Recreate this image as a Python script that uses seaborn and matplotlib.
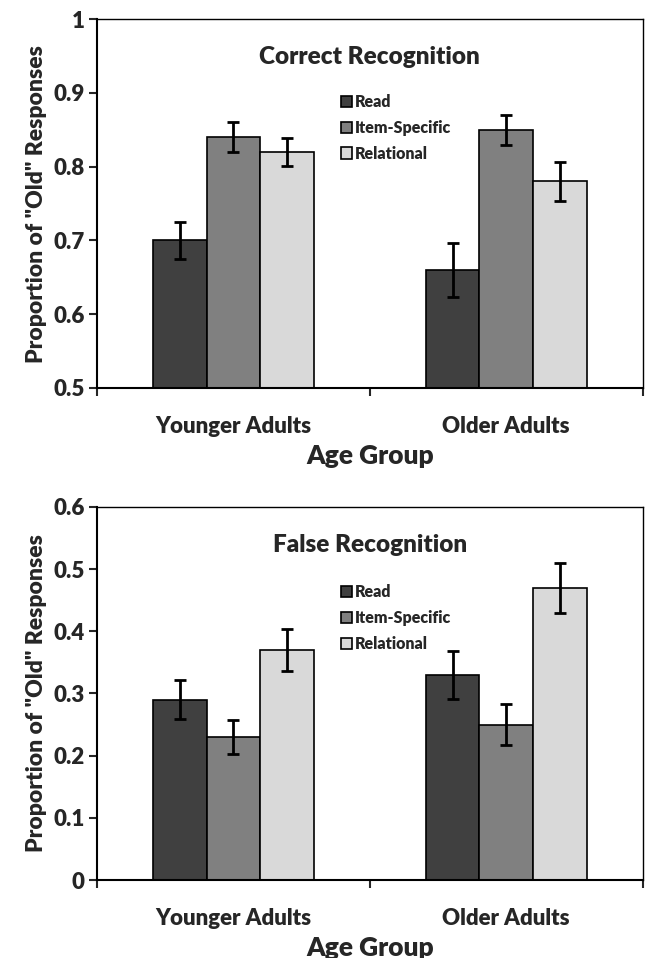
import numpy as np
import pandas as pd
import matplotlib
matplotlib.use("Agg")
import matplotlib.pyplot as plt
from matplotlib.ticker import FuncFormatter
import seaborn as sns

# ====================
# DATOS
# ====================
groups = ["Younger Adults", "Older Adults"]
conditions = ["Read", "Item-Specific", "Relational"]

correct_read = [0.70, 0.66]
correct_item = [0.84, 0.85]
correct_rel = [0.82, 0.78]
correct_read_err = [0.025, 0.037]
correct_item_err = [0.020, 0.020]
correct_rel_err = [0.019, 0.026]

false_read = [0.29, 0.33]
false_item = [0.23, 0.25]
false_rel = [0.37, 0.47]
false_read_err = [0.031, 0.039]
false_item_err = [0.027, 0.033]
false_rel_err = [0.034, 0.040]

colors = ["#404040", "#808080", "#d9d9d9"]


def make_df(read, item, rel):
    rows = []
    for cond, vals in zip(conditions, [read, item, rel]):
        for g, v in zip(groups, vals):
            rows.append({"Age Group": g, "Condition": cond, "Value": v})
    return pd.DataFrame(rows)


sns.set_style("ticks")
plt.rcParams["font.family"] = ["Lato", "DejaVu Sans"]
W = "heavy"


def panel(ax, df, errs, title, ylim, yticks, legend_y):
    sns.barplot(data=df, x="Age Group", y="Value", hue="Condition",
                hue_order=conditions, order=groups, palette=colors,
                width=0.59, edgecolor="black", linewidth=1.2,
                errorbar=None, ax=ax, saturation=1)
    for cont, err in zip(ax.containers, errs):
        xs = [b.get_x() + b.get_width() / 2 for b in cont]
        ys = [b.get_height() + b.get_y() for b in cont]
        ax.errorbar(xs, ys, yerr=err, fmt="none", ecolor="black",
                    elinewidth=2, capsize=4, capthick=2, zorder=5)
    ax.set_xlim(-0.5, 1.5)
    ax.set_ylim(*ylim)
    ax.set_yticks(yticks)
    ax.yaxis.set_major_formatter(FuncFormatter(lambda v, p: f"{v:g}"))
    ax.set_xticks([-0.5, 0.5, 1.5], minor=False)
    ax.set_xticklabels(["", "", ""])
    ax.set_xticks([0, 1], minor=True)
    ax.set_xticklabels(groups, minor=True, fontsize=16, fontweight=W)
    ax.tick_params(axis="x", which="minor", length=0, pad=20)
    ax.tick_params(axis="x", which="major", length=6, width=1.5, direction="out")
    ax.tick_params(axis="y", length=6, width=1.5, labelsize=16, direction="out", pad=3)
    for lab in ax.get_yticklabels():
        lab.set_fontweight(W)
    for sp in ax.spines.values():
        sp.set_visible(True)
        sp.set_linewidth(1.5)
        sp.set_color("black")
    ax.spines["top"].set_linewidth(1.0)
    ax.spines["right"].set_linewidth(1.0)
    ax.set_xlabel("Age Group", fontsize=19, fontweight=W, labelpad=5)
    ax.set_ylabel('Proportion of "Old" Responses', fontsize=16.5, fontweight=W, labelpad=4)
    ax.text(0.5, 0.898, title, transform=ax.transAxes, ha="center", va="center",
            fontsize=17.5, fontweight=W)
    leg = ax.legend(loc="upper left", bbox_to_anchor=(0.435, legend_y), frameon=False,
                    fontsize=11.5, handlelength=0.7, handleheight=0.7,
                    handletextpad=0.2, labelspacing=0.62, borderaxespad=0)
    for t in leg.get_texts():
        t.set_fontweight(W)


fig = plt.figure(figsize=(6.46, 9.58), dpi=100)
ax1 = fig.add_axes([0.150, 0.595, 0.845, 0.385])
ax2 = fig.add_axes([0.150, 0.0814, 0.845, 0.3894])

panel(ax1, make_df(correct_read, correct_item, correct_rel),
      [correct_read_err, correct_item_err, correct_rel_err],
      "Correct Recognition", (0.5, 1.0), [0.5, 0.6, 0.7, 0.8, 0.9, 1.0], 0.815)
panel(ax2, make_df(false_read, false_item, false_rel),
      [false_read_err, false_item_err, false_rel_err],
      "False Recognition", (0, 0.6), [0, 0.1, 0.2, 0.3, 0.4, 0.5, 0.6], 0.81)

fig.savefig("out.png", dpi=100, facecolor="white")
